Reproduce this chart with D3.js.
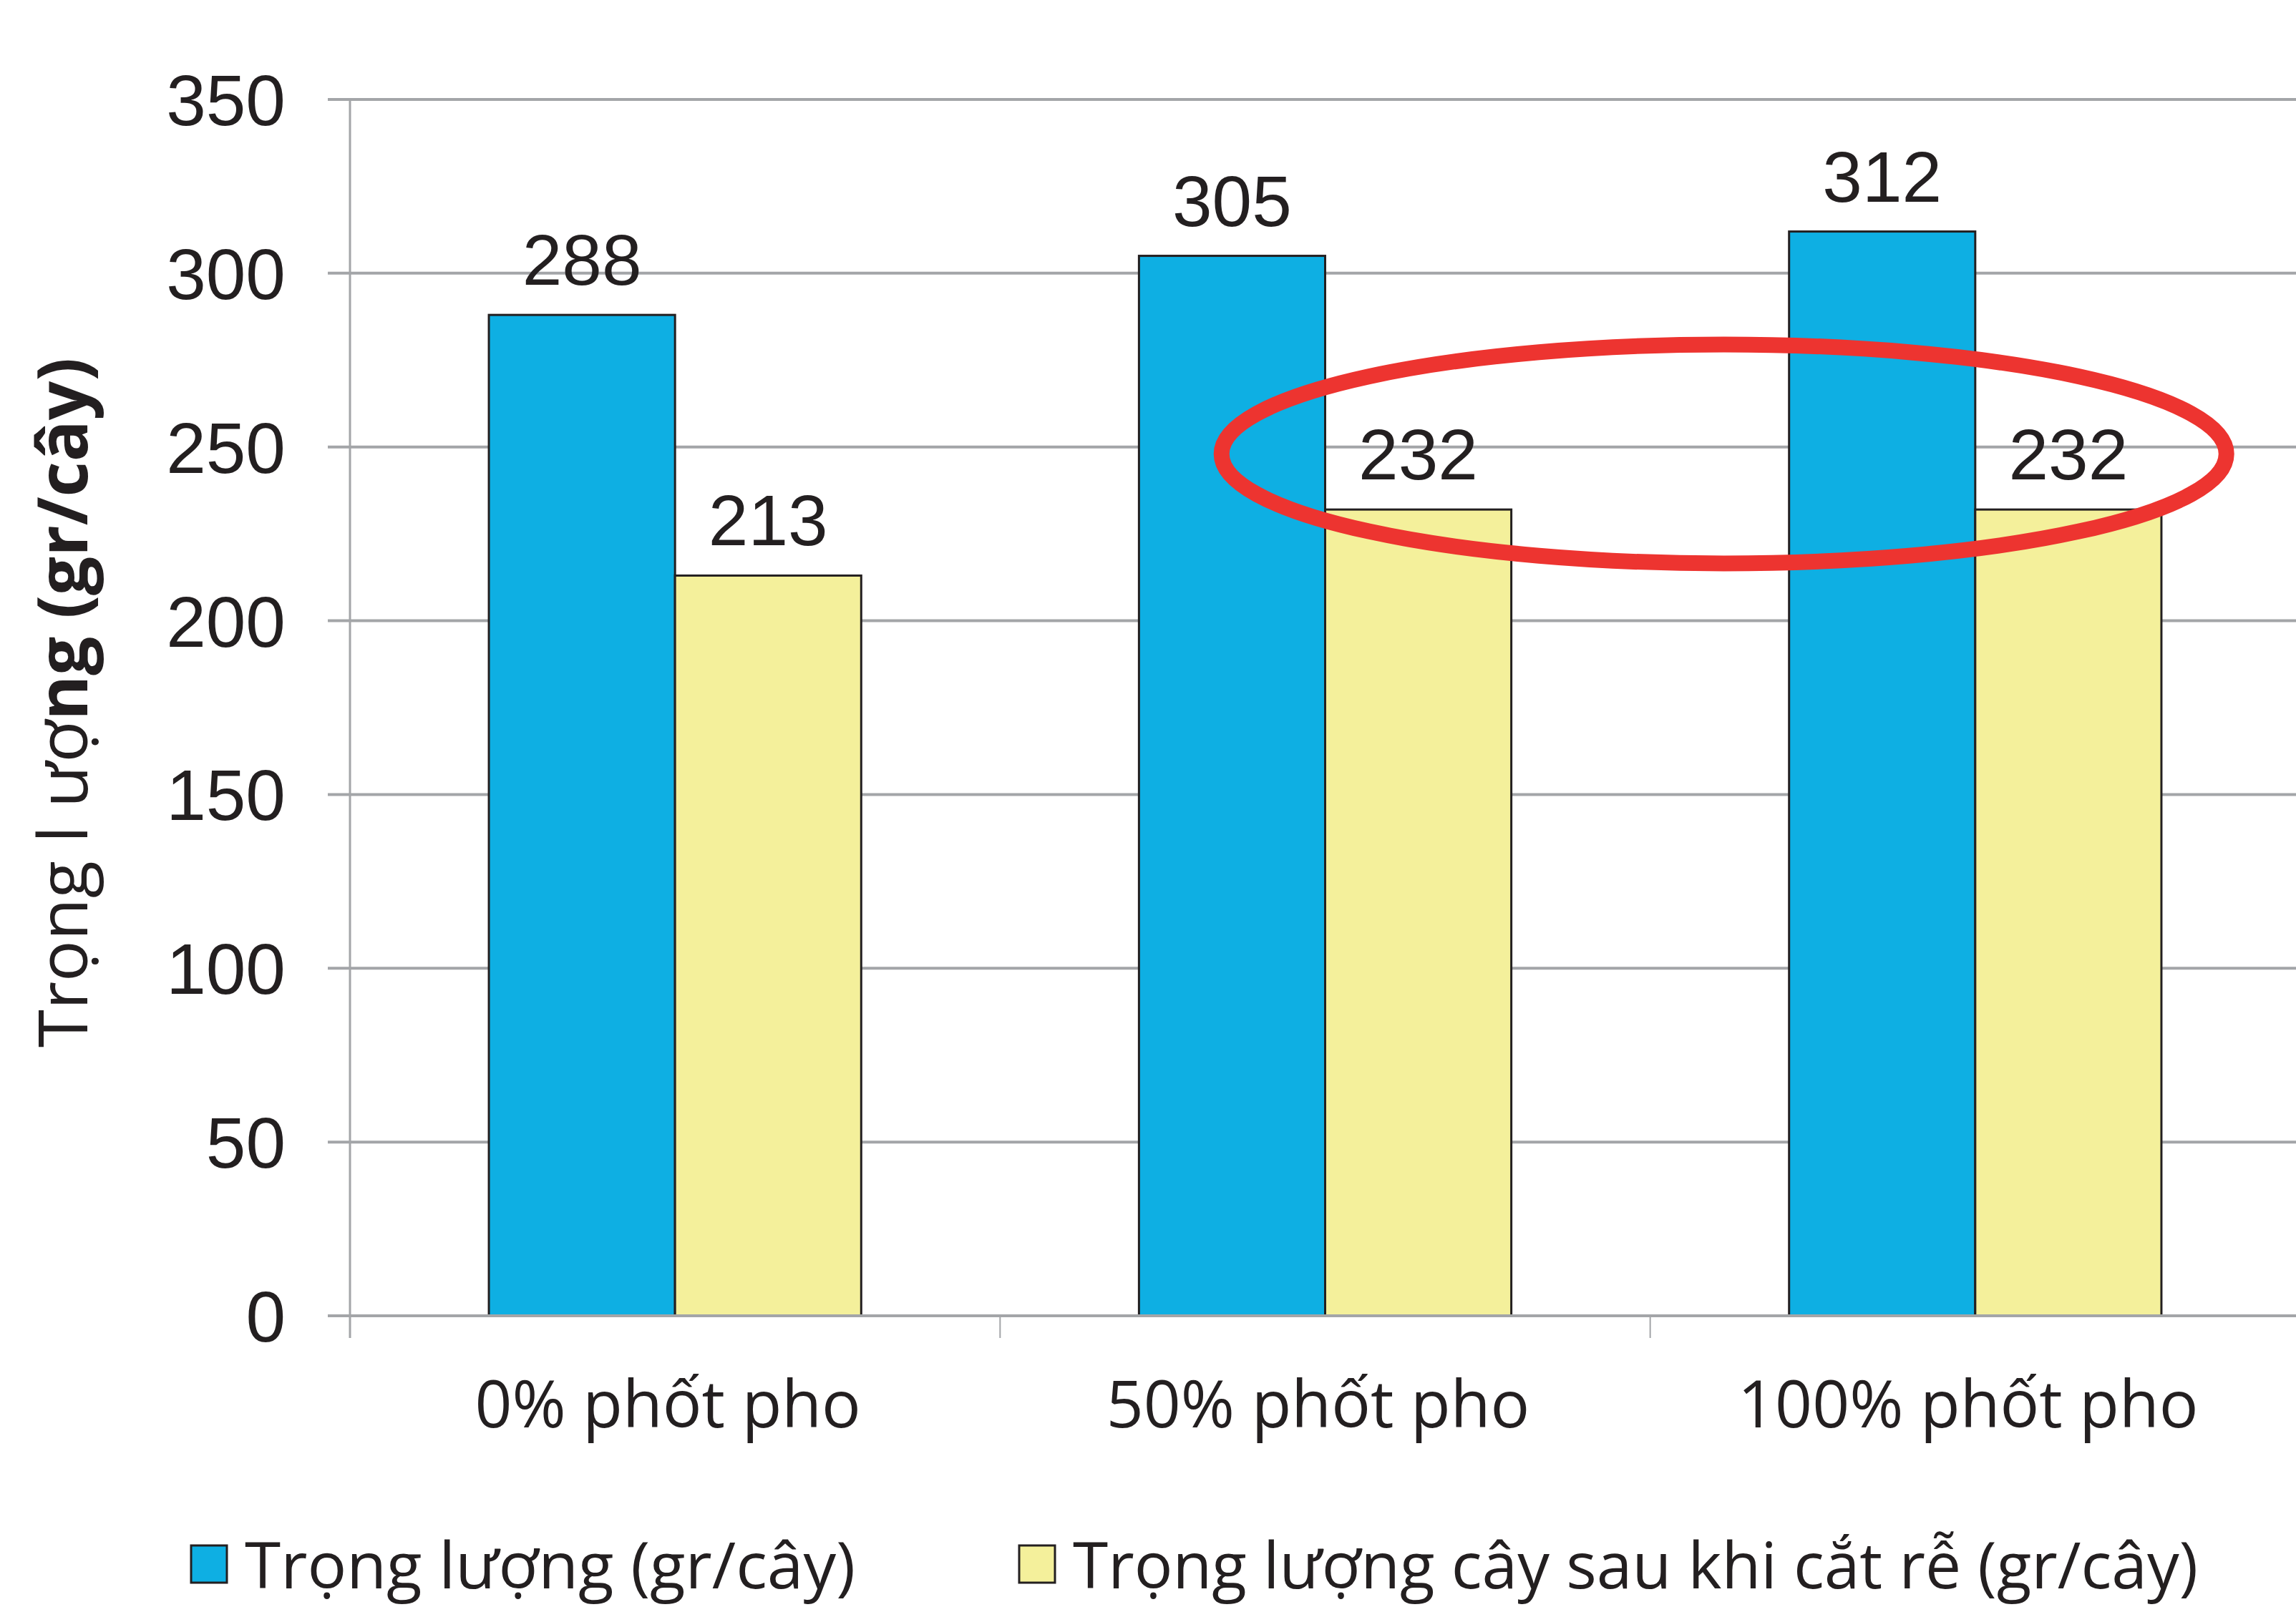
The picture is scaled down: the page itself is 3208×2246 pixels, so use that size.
<!DOCTYPE html>
<meta charset="utf-8">
<style>
    body { margin: 0; background: #fff; }
    .grid line { stroke: #a3a5a8; stroke-width: 4px; }
    .axis-line { stroke: #a3a5a8; stroke-width: 3px; fill: none; }
    .bar { stroke: #231f20; stroke-width: 3px; }
    .num { font-family: 'Liberation Sans', Arial, sans-serif; fill: #231f20; }
    .txt { font-family: 'Open Sans', sans-serif; fill: #231f20; }
    .highlight { fill: none; stroke: #ed3430; stroke-width: 22px; }
</style>
<body>
<div id="chart"></div>
<script src="https://cdn.jsdelivr.net/npm/d3@7"></script>
<script>
    var width = 3208,
        height = 2246;

    // chart data
    var categories = ["0% phốt pho", "50% phốt pho", "100% phốt pho"];
    var seriesNames = ["Trọng lượng (gr/cây)", "Trọng lượng cây sau khi cắt rễ (gr/cây)"];
    var weight = [288, 305, 312];
    var weightCut = [213, 232, 232];
    var yTicks = [0, 50, 100, 150, 200, 250, 300, 350];
    var colors = ["#0eafe3", "#f4f09b"];

    var plotLeft = 489,
        plotRight = 3214,
        plotTop = 139,
        plotBottom = 1839;

    var svg = d3.select("#chart").append("svg")
        .attr("width", width)
        .attr("height", height);

    var x = d3.scaleBand()
        .domain(categories)
        .range([plotLeft, plotRight])
        .padding(0);

    var xSub = d3.scaleBand()
        .domain([0, 1])
        .range([0, x.bandwidth()])
        .paddingInner(0)
        .paddingOuter(0.746);

    var y = d3.scaleLinear()
        .domain([0, 350])
        .range([plotBottom, plotTop]);

    var rows = categories.map((c, i) => ({cat: c, values: [weight[i], weightCut[i]]}));

    // gridlines
    svg.append("g")
        .attr("class", "grid")
        .selectAll("line")
        .data(yTicks.filter(d => d > 0))
        .enter().append("line")
        .attr("x1", plotLeft - 31)
        .attr("x2", width)
        .attr("y1", d => y(d))
        .attr("y2", d => y(d));

    // y tick labels
    svg.selectAll(".ytick")
        .data(yTicks)
        .enter().append("text")
        .attr("class", "num ytick")
        .attr("x", 399)
        .attr("y", d => y(d))
        .attr("dy", "0.36em")
        .attr("text-anchor", "end")
        .style("font-size", "100px")
        .text(d => d);

    // bars
    var groups = svg.selectAll(".group")
        .data(rows)
        .enter().append("g")
        .attr("class", "group")
        .attr("transform", d => "translate(" + x(d.cat) + ",0)");

    groups.selectAll(".bar")
        .data(d => d.values.map((v, k) => ({k: k, v: v})))
        .enter().append("rect")
        .attr("class", "bar")
        .attr("x", d => xSub(d.k))
        .attr("width", xSub.bandwidth())
        .attr("y", d => y(d.v))
        .attr("height", d => y(0) - y(d.v))
        .attr("fill", d => colors[d.k]);

    groups.selectAll(".val")
        .data(d => d.values.map((v, k) => ({k: k, v: v})))
        .enter().append("text")
        .attr("class", "num val")
        .attr("x", d => xSub(d.k) + xSub.bandwidth() / 2)
        .attr("y", d => y(d.v) - 42)
        .attr("text-anchor", "middle")
        .style("font-size", "100px")
        .text(d => d.v);

    // axes
    svg.append("line")
        .attr("class", "axis-line")
        .attr("x1", plotLeft).attr("x2", plotLeft)
        .attr("y1", plotTop).attr("y2", plotBottom + 31);

    svg.append("line")
        .attr("class", "axis-line")
        .style("stroke-width", "4px")
        .attr("x1", plotLeft - 31).attr("x2", width)
        .attr("y1", plotBottom).attr("y2", plotBottom);

    svg.selectAll(".xtick")
        .data(categories)
        .enter().append("line")
        .attr("class", "axis-line xtick")
        .style("stroke-width", "2px")
        .attr("x1", d => x(d)).attr("x2", d => x(d))
        .attr("y1", plotBottom).attr("y2", plotBottom + 31);

    svg.selectAll(".xlabel")
        .data(categories)
        .enter().append("text")
        .attr("class", "txt xlabel")
        .attr("x", d => x(d) + x.bandwidth() / 2 - 10)
        .attr("y", 1995)
        .attr("text-anchor", "middle")
        .style("font-size", "91px")
        .text(d => d);

    // y axis title
    var yTitle = svg.append("text")
        .attr("class", "txt")
        .attr("transform", "translate(122," + 982 + ") rotate(-90)")
        .attr("text-anchor", "middle")
        .style("font-size", "96px");
    yTitle.append("tspan").text("Trọng l ượ");
    yTitle.append("tspan").style("font-weight", "bold").text("ng (gr/cây)");

    // legend
    var legendX = [267, 1424];
    var legendTextWidth = [853, 1572];
    var legend = svg.selectAll(".legend")
        .data(seriesNames)
        .enter().append("g")
        .attr("class", "legend")
        .attr("transform", (d, i) => "translate(" + legendX[i] + ",2160)");

    legend.append("rect")
        .attr("class", "bar")
        .attr("width", 50)
        .attr("height", 52)
        .attr("fill", (d, i) => colors[i]);

    legend.append("text")
        .attr("class", "txt")
        .attr("x", 75)
        .attr("y", 60)
        .attr("textLength", (d, i) => legendTextWidth[i])
        .attr("lengthAdjust", "spacingAndGlyphs")
        .style("font-size", "90px")
        .text(d => d);

    // red ellipse around the cut-root values
    var c1 = x(categories[1]) + xSub(1) + xSub.bandwidth() / 2,
        c2 = x(categories[2]) + xSub(1) + xSub.bandwidth() / 2;
    svg.append("ellipse")
        .attr("class", "highlight")
        .attr("cx", (c1 + c2) / 2 - 27)
        .attr("cy", y(248))
        .attr("rx", 702)
        .attr("ry", 153);
</script>
</body>
